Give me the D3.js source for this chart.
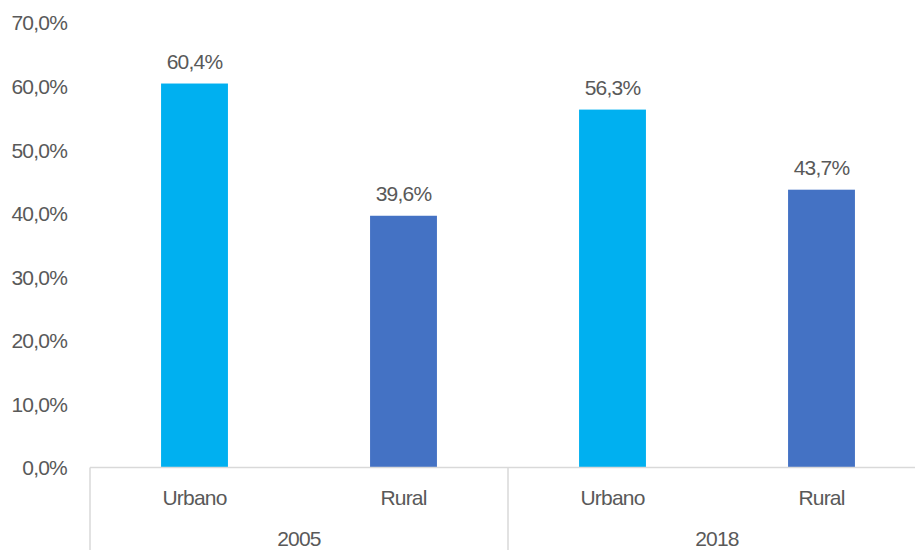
<!doctype html>
<html>
<head>
  <meta charset="UTF-8" />
  <title>Urbano / Rural</title>
  <style>
    html, body { margin: 0; padding: 0; background: #fff; }
    svg { display: block; font-family: "Liberation Sans Narrow", "Arial Narrow", "Liberation Sans", Arial, sans-serif; }
    .tick text, .lbl { fill: #595959; font-size: 21px; letter-spacing: -0.8px; }
  </style>
</head>
<body>
  <script src="https://d3js.org/d3.v7.min.js"></script>
  <script>
    // data
    const years = ['2005', '2018'];
    const areas = ['Urbano', 'Rural'];
    const urbano = [60.4, 56.3];
    const rural = [39.6, 43.7];
    const yTicks = [0, 10, 20, 30, 40, 50, 60, 70];
    const colors = { Urbano: '#00B0F0', Rural: '#4472C4' };

    const rows = [];
    years.forEach((y, i) => {
      rows.push({ year: y, area: 'Urbano', value: urbano[i] });
      rows.push({ year: y, area: 'Rural', value: rural[i] });
    });

    const width = 915, height = 550;
    const m = { left: 90, right: -11, top: 22.5, bottom: 82.5 };
    const plotBottom = height - m.bottom;

    const svg = d3.select('body').append('svg')
      .attr('width', width)
      .attr('height', height);

    const fmt = v => v.toFixed(1).replace('.', ',') + '%';

    const y = d3.scaleLinear().domain([0, 70]).range([plotBottom, m.top]);

    const xYear = d3.scaleBand().domain(years).range([m.left, width - m.right]);
    const xArea = d3.scaleBand().domain(areas).range([0, xYear.bandwidth()]).paddingInner(0.68).paddingOuter(0.34);

    // y axis labels (no line, no ticks)
    const yAxis = svg.append('g')
      .attr('transform', `translate(${m.left - 23},0)`)
      .call(d3.axisLeft(y).tickValues(yTicks).tickFormat(fmt).tickSize(0).tickPadding(0));
    yAxis.select('.domain').remove();
    yAxis.selectAll('text').attr('dy', '0.35em');

    // bars
    svg.append('g').selectAll('rect')
      .data(rows)
      .join('rect')
      .attr('x', d => xYear(d.year) + xArea(d.area))
      .attr('width', xArea.bandwidth())
      .attr('y', d => y(d.value))
      .attr('height', d => y(0) - y(d.value))
      .attr('fill', d => colors[d.area]);

    // value labels
    svg.append('g').selectAll('text')
      .data(rows)
      .join('text')
      .attr('class', 'lbl')
      .attr('text-anchor', 'middle')
      .attr('x', d => xYear(d.year) + xArea(d.area) + xArea.bandwidth() / 2)
      .attr('y', d => y(d.value) - 15)
      .text(d => fmt(d.value));

    // category axis
    const axisCol = '#D9D9D9';
    svg.append('line')
      .attr('x1', m.left).attr('x2', width - m.right)
      .attr('y1', plotBottom).attr('y2', plotBottom)
      .attr('stroke', axisCol).attr('stroke-width', 1.5);

    const seps = years.map(d => xYear(d)).concat([xYear(years[years.length - 1]) + xYear.bandwidth()]);
    svg.append('g').selectAll('line')
      .data(seps)
      .join('line')
      .attr('x1', d => d).attr('x2', d => d)
      .attr('y1', plotBottom).attr('y2', height)
      .attr('stroke', axisCol).attr('stroke-width', 1.5);

    svg.append('g').selectAll('text')
      .data(rows)
      .join('text')
      .attr('class', 'lbl')
      .attr('text-anchor', 'middle')
      .attr('x', d => xYear(d.year) + xArea(d.area) + xArea.bandwidth() / 2)
      .attr('y', plotBottom + 37.5)
      .text(d => d.area);

    svg.append('g').selectAll('text')
      .data(years)
      .join('text')
      .attr('class', 'lbl')
      .attr('text-anchor', 'middle')
      .attr('x', d => xYear(d) + xYear.bandwidth() / 2)
      .attr('y', plotBottom + 78)
      .text(d => d);
  </script>
</body>
</html>
